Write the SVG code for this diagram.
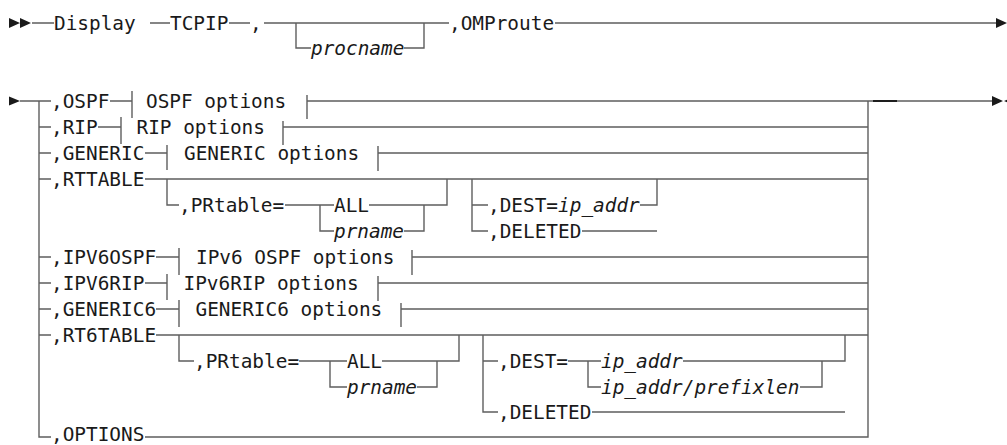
<svg xmlns="http://www.w3.org/2000/svg" width="1007" height="445" viewBox="0 0 1007 445">
<style>
text{font-family:"DejaVu Sans Mono","Liberation Mono",monospace;font-size:19.4px;fill:#1a1a1a}
.i{font-style:italic}
.c path{fill:none;stroke:#5e5e5e;stroke-width:1.4}
.a{fill:#1a1a1a;stroke:none}
</style>
<rect width="1007" height="445" fill="#fff"/>
<g id="connectors" class="c">
<path d="M32 23H54M150 23H170M229 23H250M264 23H449M555 23H997"/>
<path d="M296 23V48H311M404 48H424V23"/>
<path d="M20 101H51M39 101V437H51M39 127H51M39 153H51M39 179H51M39 257H51M39 283H51M39 309H51M39 335H51"/>
<path d="M145 437H868V101M868 101H993"/>
<path d="M110 101H132M132 91V118M307 95V119M307 101H868"/>
<path d="M98 127H121M121 117V144M283 121V145M283 127H868"/>
<path d="M145 153H167M167 145V170M378 146V171M378 153H868"/>
<path d="M145 179H868M167 179V205H179M285 205H334M320 205V231H334M369 205H447V179M404 231H424V205"/>
<path d="M472 179V231H488M472 205H488M640 205H657V179M582 231H657"/>
<path d="M156 257H179M179 248V275M412 250V275M412 257H868"/>
<path d="M145 283H167M167 274V300M378 276V301M378 283H868"/>
<path d="M156 309H179M179 300V327M401 303V327M401 309H868"/>
<path d="M156 335H868M179 335V361H194M299 361H347M330 361V387H347M382 361H459V335M417 387H437V361"/>
<path d="M483 335V412H498M483 361H498M568 361H601M588 361V387H601M683 361H845V335M800 387H822V361M592 412H845"/>
<path d="M873 101H897" style="stroke:#111;stroke-width:1.8"/>
</g>
<g id="markers">
<path class="a" d="M9 18L20 23L9 28ZM20 18L31 23L20 28Z"/>
<path class="a" d="M996 18L1007 23L996 28Z"/>
<path class="a" d="M9 96.5L20 101L9 105.5Z"/>
<path class="a" d="M992 96L1003 101L992 106ZM1015 96L1004 101L1015 106Z"/>
</g>
<g id="n-display"><text x="54" y="29.5">Display</text></g>
<g id="n-tcpip"><text x="170" y="29.5">TCPIP</text></g>
<g id="n-comma"><text x="250" y="29.5">,</text></g>
<g id="n-procname"><text class="i" x="311" y="54.5">procname</text></g>
<g id="n-omproute"><text x="449" y="29.5">,OMProute</text></g>
<g id="n-ospf"><text x="51" y="107.5">,OSPF</text><text x="146" y="107.5">OSPF options</text></g>
<g id="n-rip"><text x="51" y="133.5">,RIP</text><text x="136.5" y="133.5">RIP options</text></g>
<g id="n-generic"><text x="51" y="159.5">,GENERIC</text><text x="184" y="159.5">GENERIC options</text></g>
<g id="n-rttable"><text x="51" y="185.5">,RTTABLE</text></g>
<g id="n-prtable"><text x="179" y="211.5">,PRtable=</text><text x="334" y="211.5">ALL</text><text class="i" x="334" y="237.5">prname</text></g>
<g id="n-dest"><text x="488" y="211.5">,DEST=<tspan class="i">ip_addr</tspan></text><text x="488" y="237.5">,DELETED</text></g>
<g id="n-ipv6ospf"><text x="51" y="263.5">,IPV6OSPF</text><text x="196" y="263.5">IPv6 OSPF options</text></g>
<g id="n-ipv6rip"><text x="51" y="289.5">,IPV6RIP</text><text x="183.5" y="289.5">IPv6RIP options</text></g>
<g id="n-generic6"><text x="51" y="315.5">,GENERIC6</text><text x="195.5" y="315.5">GENERIC6 options</text></g>
<g id="n-rt6table"><text x="51" y="341.5">,RT6TABLE</text></g>
<g id="n-prtable6"><text x="194" y="367.5">,PRtable=</text><text x="347" y="367.5">ALL</text><text class="i" x="347" y="393.5">prname</text></g>
<g id="n-dest6"><text x="498" y="367.5">,DEST=</text><text class="i" x="601" y="367.5">ip_addr</text><text class="i" x="601" y="393.5">ip_addr/prefixlen</text><text x="498" y="418.5">,DELETED</text></g>
<g id="n-options"><text x="51" y="440.5">,OPTIONS</text></g>
</svg>
